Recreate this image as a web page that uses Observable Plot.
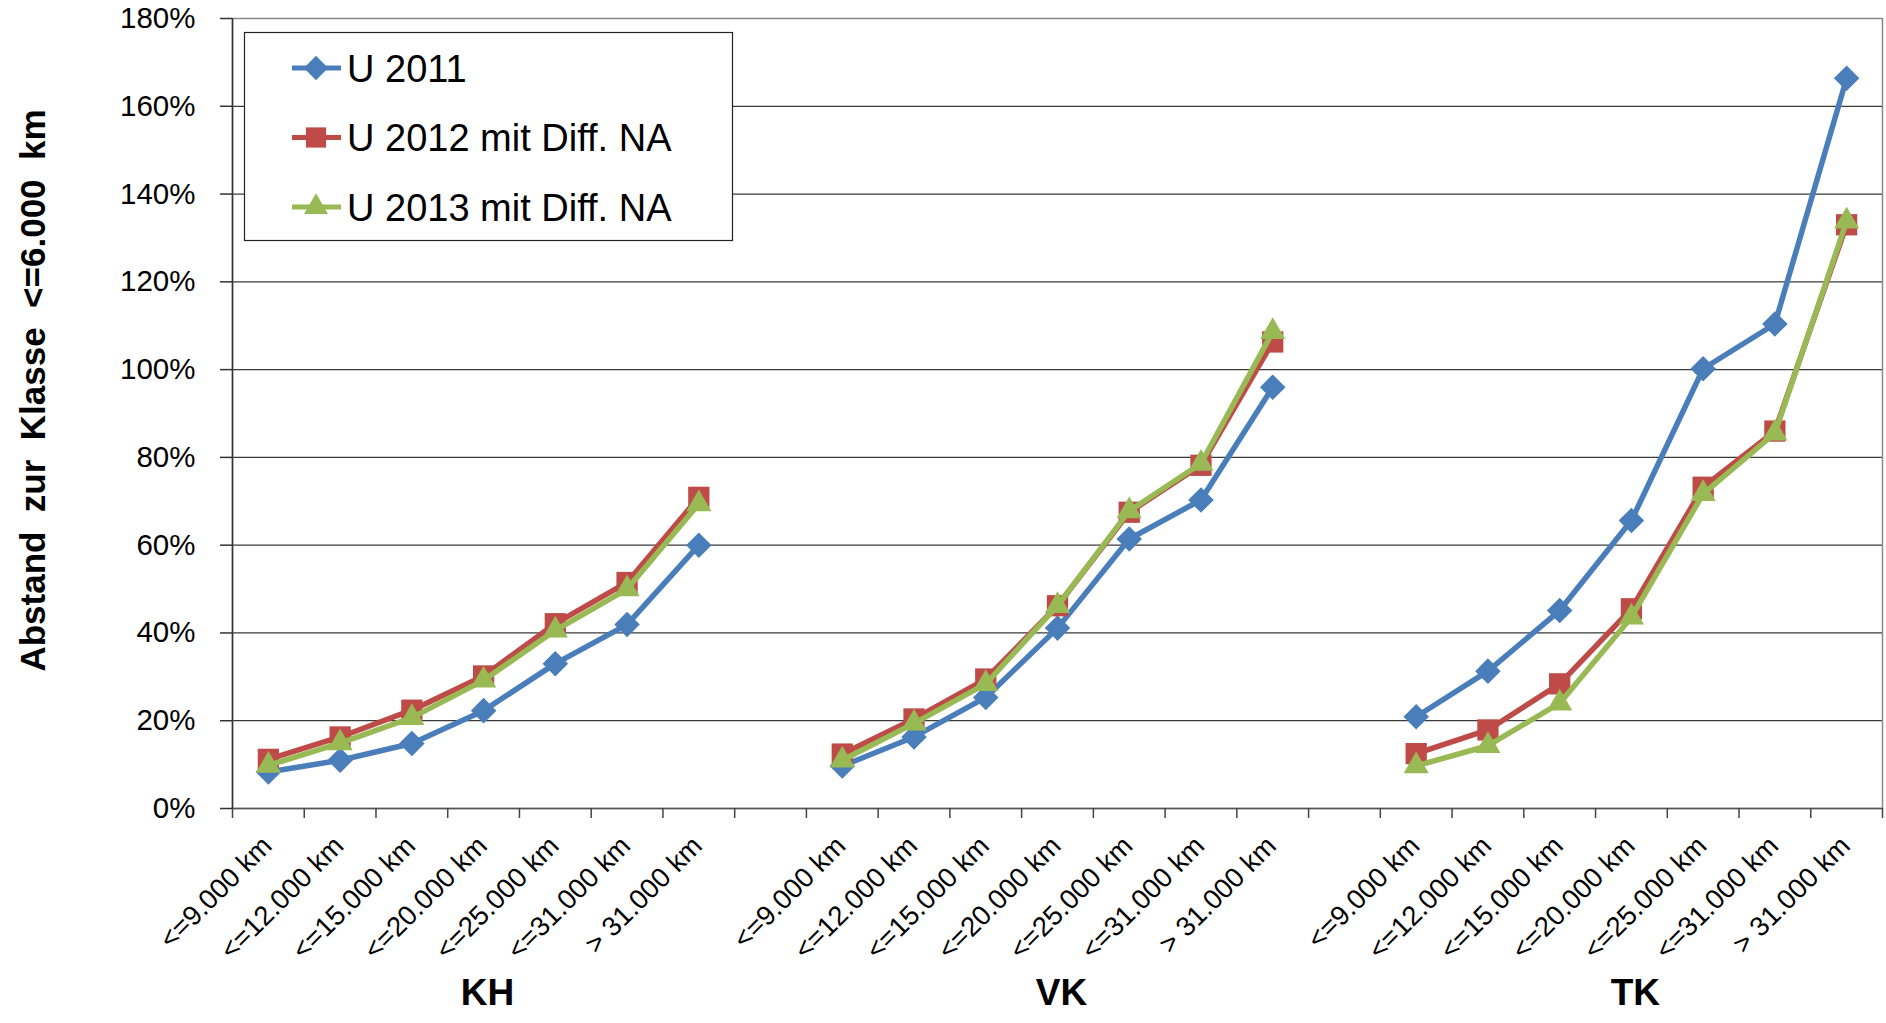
<!DOCTYPE html>
<html>
<head>
<meta charset="utf-8">
<script src="https://cdn.jsdelivr.net/npm/d3@7"></script>
<script src="https://cdn.jsdelivr.net/npm/@observablehq/plot@0.6"></script>
<style>
  html, body { margin: 0; padding: 0; background: #fff; }
  #chart svg { display: block; }
  #chart svg text { white-space: pre; }
</style>
</head>
<body>
<div id="chart"></div>
<script>
// ---- data ----
const categories = ["<=9.000 km", "<=12.000 km", "<=15.000 km", "<=20.000 km", "<=25.000 km", "<=31.000 km", "> 31.000 km"];
const groups = ["KH", "VK", "TK"];
const seriesNames = ["U 2011", "U 2012 mit Diff. NA", "U 2013 mit Diff. NA"];
const seriesColors = ["#4A7EBB", "#BE4B48", "#98B954"];
const seriesSymbols = ["diamond2", "square", "triangle2"];
const yTicks = [0, 20, 40, 60, 80, 100, 120, 140, 160, 180];
const yTitle = "Abstand  zur  Klasse  <=6.000  km";

// values in percent, order: KH (7), VK (7), TK (7)
const u2011 = [8.3, 11.0, 14.8, 22.3, 33.0, 41.9, 60.0,
               9.7, 16.3, 25.3, 41.1, 61.4, 70.3, 96.0,
               20.9, 31.3, 45.1, 65.6, 100.2, 110.4, 166.4];
const u2012 = [11.2, 16.3, 22.4, 30.2, 42.1, 51.5, 70.9,
               12.4, 20.4, 29.5, 46.2, 67.5, 78.2, 106.3,
               12.5, 17.9, 28.4, 45.5, 73.2, 86.0, 133.0];
const u2013 = [9.8, 14.9, 20.7, 29.2, 40.6, 50.0, 69.4,
               11.0, 19.4, 28.4, 46.2, 67.8, 78.6, 108.6,
               9.7, 14.3, 24.0, 43.6, 71.7, 85.5, 133.8];

// ---- table built from the arrays ----
const perGroup = categories.length + 1;          // one blank category between groups
const nSlots = groups.length * perGroup - 1;     // 23
const allSeries = [u2011, u2012, u2013];
const rows = [];
allSeries.forEach((vals, s) => {
  groups.forEach((g, gi) => {
    categories.forEach((c, ci) => {
      rows.push({series: s, group: g, cat: c, slot: gi * perGroup + ci + 0.5, value: vals[gi * categories.length + ci]});
    });
  });
});
const labelRows = rows.filter(d => d.series === 0);
const groupRows = groups.map((g, gi) => ({group: g, slot: gi * perGroup + categories.length / 2}));

const d3Symbols = {diamond2: d3.symbolDiamond2, square: d3.symbolSquare, triangle2: d3.symbolTriangle2};
const symbolR = [11.5, 12, 12];

const FONT = "'Liberation Sans', Arial, Helvetica, sans-serif";

function legend(index, scales, values, dimensions) {
  const g = d3.create("svg:g");
  g.append("rect")
    .attr("x", 244.5).attr("y", 32.5).attr("width", 488).attr("height", 208)
    .attr("fill", "white").attr("stroke", "#222").attr("stroke-width", 1.2);
  seriesNames.forEach((name, i) => {
    const cy = 68 + i * 69.5;
    g.append("line")
      .attr("x1", 292).attr("x2", 341).attr("y1", cy).attr("y2", cy)
      .attr("stroke", seriesColors[i]).attr("stroke-width", 5);
    const r = symbolR[i] * 0.95;
    g.append("path")
      .attr("d", d3.symbol(d3Symbols[seriesSymbols[i]], Math.PI * r * r)())
      .attr("transform", `translate(316,${cy})`)
      .attr("fill", seriesColors[i]);
    g.append("text")
      .attr("x", 347).attr("y", cy).attr("dy", "0.36em")
      .attr("text-anchor", "start")
      .attr("font-size", 38).attr("fill", "black")
      .text(name);
  });
  return g.node();
}

const seriesMarks = [];
allSeries.forEach((_, s) => {
  const data = rows.filter(d => d.series === s);
  seriesMarks.push(Plot.line(data, {x: "slot", y: "value", z: "group", stroke: seriesColors[s], strokeWidth: 5.5, strokeLinejoin: "round"}));
  seriesMarks.push(Plot.dot(data, {x: "slot", y: "value", symbol: seriesSymbols[s], r: symbolR[s], fill: seriesColors[s], stroke: "none"}));
});

const chart = Plot.plot({
  width: 1886,
  height: 1023,
  marginLeft: 232,
  marginRight: 4,
  marginTop: 18,
  marginBottom: 215,
  x: {domain: [0, nSlots]},
  y: {domain: [0, 180]},
  style: {fontFamily: FONT, fontSize: "29px", background: "white", color: "black", overflow: "visible"},
  marks: [
    Plot.gridY(yTicks, {stroke: "#3a3a3a", strokeOpacity: 1, strokeWidth: 1.2}),
    Plot.frame({stroke: "#8a8a8a", strokeWidth: 1.5}),
    Plot.ruleY([0], {stroke: "#555", strokeWidth: 1.5}),
    Plot.ruleX([0], {stroke: "#333", strokeWidth: 1.5}),
    Plot.axisX({ticks: d3.range(nSlots + 1), tickSize: 10, tickFormat: () => "", label: null, stroke: "#444", strokeWidth: 1.5}),
    Plot.axisY({ticks: yTicks, tickSize: 12, tickPadding: 25, tickFormat: d => d + "%", label: null, fontSize: 29.5, stroke: "#333", strokeWidth: 1.5}),
    Plot.text(labelRows, {x: "slot", text: "cat", frameAnchor: "bottom", rotate: -45, textAnchor: "end", lineAnchor: "bottom", dx: 5, dy: 39, fontSize: 27.5, fill: "black"}),
    Plot.text(groupRows, {x: "slot", text: "group", frameAnchor: "bottom", dx: 4, dy: 196, fontSize: 37, fontWeight: "bold", fill: "black"}),
    Plot.text([yTitle], {frameAnchor: "left", text: d => d, rotate: -90, textAnchor: "middle", dx: -199, dy: -23, fontSize: 35, fontWeight: "bold", fill: "black"}),
    ...seriesMarks,
    legend
  ]
});
document.getElementById("chart").appendChild(chart);
</script>
</body>
</html>
